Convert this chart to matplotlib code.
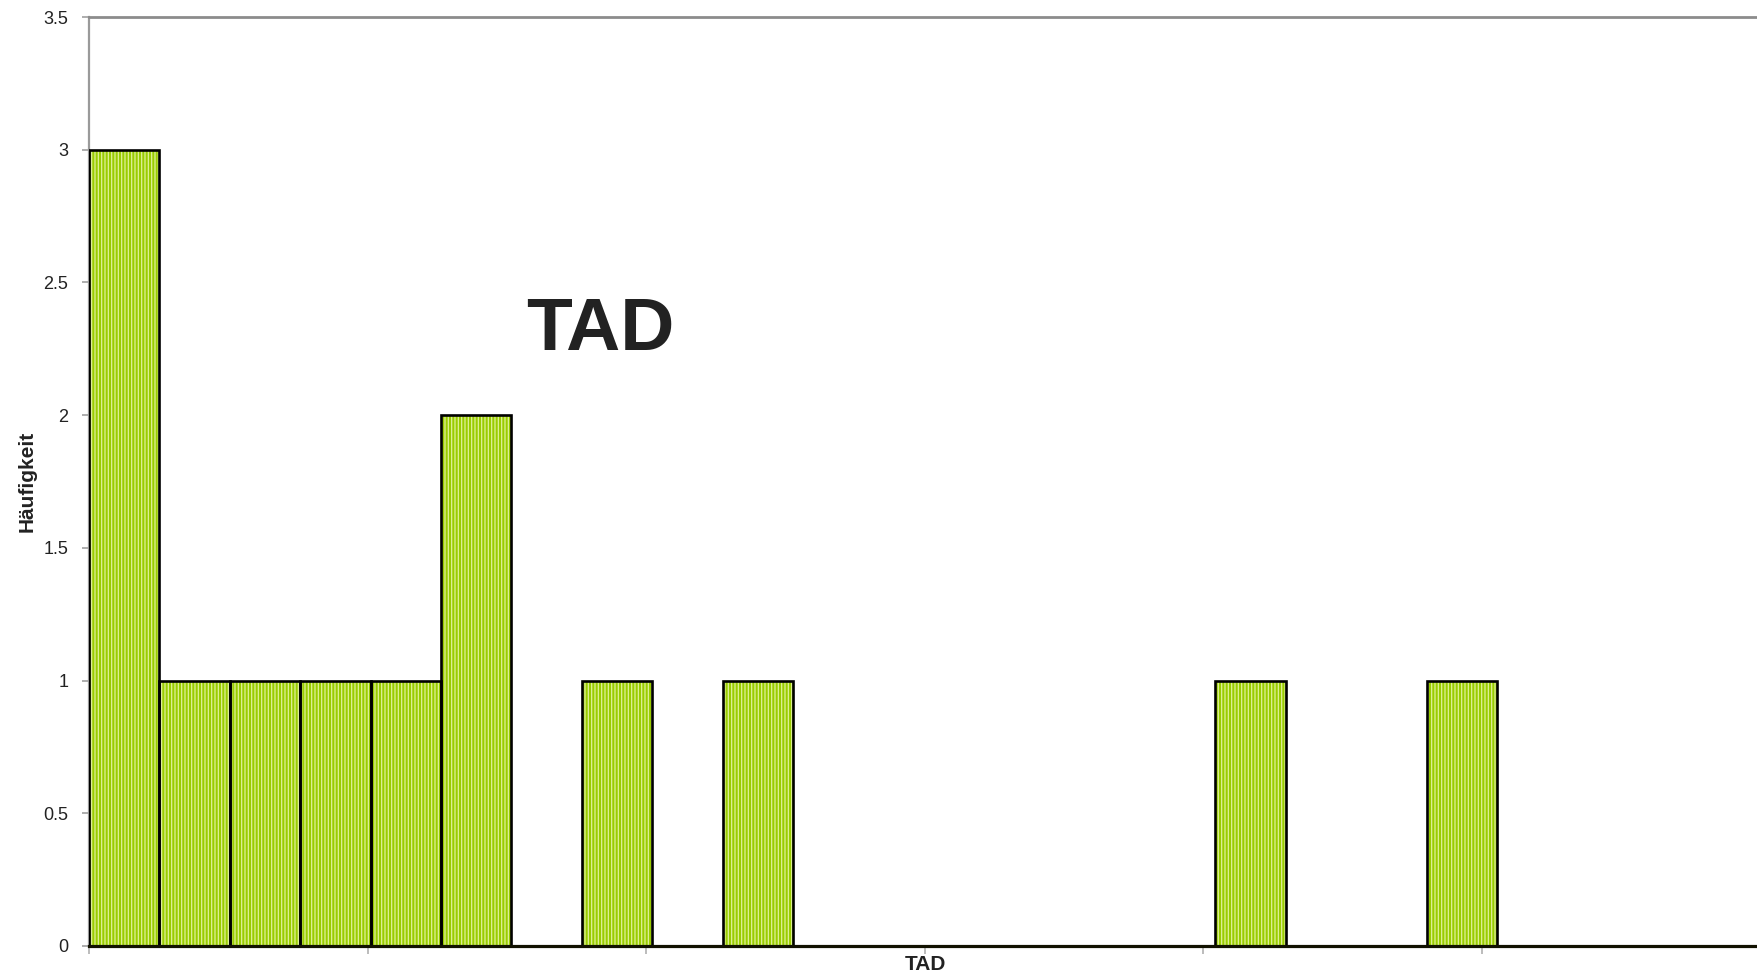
import matplotlib
matplotlib.use("Agg")
import matplotlib.pyplot as plt
import numpy as np

# ---- data ----
bin_index = list(range(24))
counts = [3, 1, 1, 1, 1, 2, 0, 1, 0, 1, 0, 0, 0, 0, 0, 0, 1, 0, 0, 1, 0, 0, 0, 0]
y_ticks = [0, 0.5, 1, 1.5, 2, 2.5, 3, 3.5]
y_tick_labels = ["0", "0.5", "1", "1.5", "2", "2.5", "3", "3.5"]
title_text = "TAD"
x_label = "TAD"
y_label = "Häufigkeit"

plt.rcParams['font.family'] = ['Liberation Sans', 'DejaVu Sans']
plt.rcParams['hatch.linewidth'] = 0.9

W, H = 1757, 976
fig = plt.figure(figsize=(W / 100, H / 100), dpi=100)
left_px, right_px, top_px, bottom_px = 89, 1757, 17, 946
ax = fig.add_axes([left_px / W, (H - bottom_px) / H,
                   (right_px - left_px) / W, (bottom_px - top_px) / H])

x = np.array(bin_index, dtype=float)
c = np.array(counts, dtype=float)
mask = c > 0

face = '#99cc00'
stripe = '#e0f09a'
# striped fill
ax.bar(x[mask], c[mask], width=1.0, align='edge', color=face,
       edgecolor=stripe, hatch='|||||', linewidth=0, zorder=2)
# black outlines
ax.bar(x[mask], c[mask], width=1.0, align='edge', fill=False,
       edgecolor='black', linewidth=1.9, zorder=3)

ax.set_xlim(0, (right_px - left_px) / 70.4)
ax.set_ylim(0, 3.5)

ax.set_yticks(y_ticks)
ax.set_yticklabels(y_tick_labels)
xtick_step = 278.6 / 70.4
ax.set_xticks(np.arange(0, 23.7, xtick_step))
ax.set_xticklabels([])

ax.tick_params(axis='y', length=5, width=1.2, color='#a0a0a0', pad=10,
               labelsize=13, labelcolor='#222222')
ax.tick_params(axis='x', length=6, width=1.2, color='#b0b0b0', pad=2)

ax.spines['right'].set_visible(False)
ax.spines['left'].set_color('#9a9a9a')
ax.spines['left'].set_linewidth(1.6)
ax.spines['top'].set_color('#8c8c8c')
ax.spines['top'].set_linewidth(2.0)
ax.spines['bottom'].set_color('#111100')
ax.spines['bottom'].set_linewidth(2.3)
ax.spines['bottom'].set_zorder(4)

fig.text(600.6 / W, 1 - 330.5 / H, title_text, ha='center', va='center',
         fontsize=54, fontweight='bold', color='#222222')
fig.text(925.6 / W, 1 - 964.5 / H, x_label, ha='center', va='center',
         fontsize=15, fontweight='bold', color='#222222')
fig.text(27 / W, 1 - 481.5 / H, y_label, ha='center', va='center',
         rotation=90, fontsize=15, fontweight='bold', color='#222222')

fig.savefig('out.png', dpi=100, facecolor='white')
